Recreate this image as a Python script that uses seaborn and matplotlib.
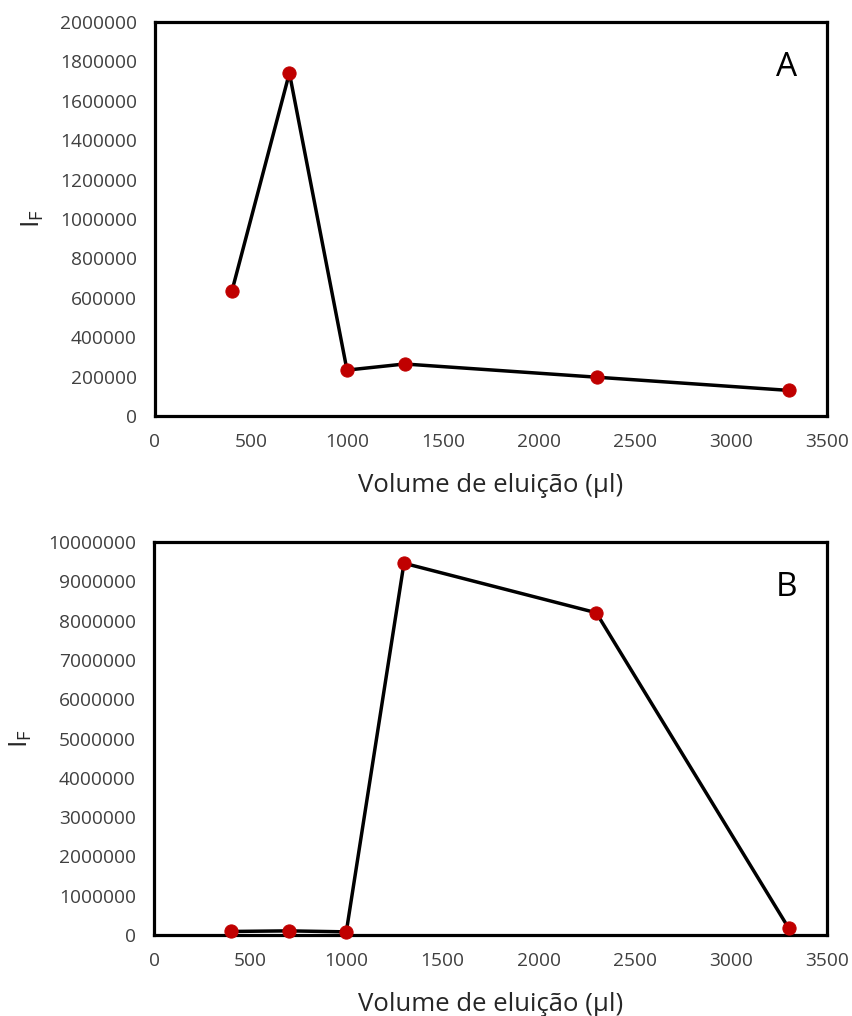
import matplotlib
matplotlib.use("Agg")
import matplotlib.pyplot as plt
import seaborn as sns
import pandas as pd

# Elution volumes (µl) and fluorescence intensities for the two runs
volume = [400, 700, 1000, 1300, 2300, 3300]
intensity_a = [632000, 1741000, 233000, 264000, 197000, 130000]
intensity_b = [90000, 105000, 80000, 9460000, 8200000, 180000]

panel_labels = ["A", "B"]
y_limits = [(0, 2000000), (0, 10000000)]
y_steps = [200000, 1000000]
x_ticks = [0, 500, 1000, 1500, 2000, 2500, 3000, 3500]

sns.set_theme(style="white")
plt.rcParams["font.family"] = ["Open Sans", "DejaVu Sans"]

W, H = 852, 1016
fig = plt.figure(figsize=(W / 100, H / 100), dpi=100)

# axes boxes in pixel coordinates: left, top, right, bottom
boxes = [(155, 22, 827, 416), (154, 542, 827, 935)]

for i, (series, box) in enumerate(zip([intensity_a, intensity_b], boxes)):
    l, t, r, b = box
    ax = fig.add_axes([l / W, 1 - b / H, (r - l) / W, (b - t) / H])
    df = pd.DataFrame({"volume": volume, "intensity": series})
    sns.lineplot(data=df, x="volume", y="intensity", ax=ax, color="black",
                 linewidth=2.5, marker="o", markersize=9.5,
                 markerfacecolor="#C00000", markeredgecolor="#C00000",
                 zorder=3, clip_on=False)
    ax.set_xlim(0, 3500)
    ax.set_ylim(*y_limits[i])
    ax.set_xticks(x_ticks)
    lo, hi = y_limits[i]
    ax.set_yticks(list(range(lo, hi + 1, y_steps[i])))
    ax.set_yticklabels([str(v) for v in range(lo, hi + 1, y_steps[i])])
    ax.tick_params(axis="both", length=0, labelsize=13.8, colors="#404040")
    ax.tick_params(axis="x", pad=12)
    ax.tick_params(axis="y", pad=13)
    for sp in ax.spines.values():
        sp.set_color("black")
        sp.set_linewidth(2.3)
    ax.set_xlabel("Volume de eluição (µl)", fontsize=18.5, color="#262626",
                  labelpad=16)
    ax.set_ylabel(r"$\mathregular{I_F}$", fontsize=19, color="#262626",
                  labelpad=10)
    ax.text(0.94, 0.885, panel_labels[i], transform=ax.transAxes,
            fontsize=24, ha="center", va="center", color="black")

fig.savefig("out.png", dpi=100)
